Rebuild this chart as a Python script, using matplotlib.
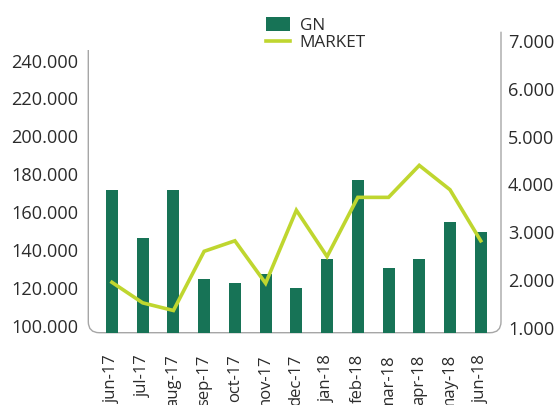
import matplotlib
matplotlib.use("Agg")
import matplotlib.pyplot as plt
from matplotlib.patches import Patch
from matplotlib.lines import Line2D
from matplotlib.path import Path
from matplotlib.patches import PathPatch

categories = ["jun-17", "jul-17", "aug-17", "sep-17", "oct-17", "nov-17", "dec-17",
              "jan-18", "feb-18", "mar-18", "apr-18", "may-18", "jun-18"]
gn_values = [171.4, 146.5, 171.4, 124.7, 122.4, 127.3, 119.7,
             135.1, 176.7, 130.6, 135.1, 154.7, 149.2]
market_values = [1.95, 1.52, 1.36, 2.60, 2.82, 1.93, 3.46,
                 2.49, 3.73, 3.73, 4.40, 3.89, 2.82]
left_ticks = [100, 120, 140, 160, 180, 200, 220, 240]
right_ticks = [1, 2, 3, 4, 5, 6, 7]

BAR = "#177356"
LINE = "#bfd62f"
SPINE = "#a6a6a6"
TXT = "#2b2b2b"

plt.rcParams['font.family'] = ['Open Sans', 'DejaVu Sans']

W, H = 555, 405
fig = plt.figure(figsize=(W / 100, H / 100), dpi=100)
L, R, B, T = 88.3, 501, 332.7, 31.7
ax = fig.add_axes([L / W, 1 - B / H, (R - L) / W, (B - T) / H])
ax2 = ax.twinx()

x = list(range(len(categories)))
ax.bar(x, gn_values, width=0.39, color=BAR, zorder=2)
ax2.plot(x, market_values, color=LINE, lw=2.6, solid_joinstyle='miter', zorder=3)

ax.set_xlim(-0.77, 12.66)
ax.set_ylim(96.2, 255.3)
ax2.set_ylim(0.895, 7.2)

ax.set_yticks(left_ticks)
ax.set_yticklabels([f"{v}.000" for v in left_ticks])
ax2.set_yticks(right_ticks)
ax2.set_yticklabels([f"{v}.000" for v in right_ticks])
ax.set_xticks(x)
ax.set_xticklabels(categories, rotation=90, va='top', ha='center')

fs = 13.1
ax.tick_params(axis='y', length=0, pad=7, labelsize=fs, labelcolor=TXT)
ax2.tick_params(axis='y', length=0, pad=5, labelsize=fs, labelcolor=TXT)
ax.tick_params(axis='x', length=0, pad=15.5, labelsize=12.0, labelcolor=TXT)

for a in (ax, ax2):
    for s in a.spines.values():
        s.set_visible(False)

# frame with rounded bottom corners
aw, ah = R - L, B - T
rx, ry = 11 / aw, 11 / ah
ltop = (B - 50) / ah
verts = [(0, ltop), (0, ry), (0, 0), (rx, 0), (1 - rx, 0), (1, 0), (1, ry), (1, 1)]
codes = [Path.MOVETO, Path.LINETO, Path.CURVE3, Path.CURVE3, Path.LINETO,
         Path.CURVE3, Path.CURVE3, Path.LINETO]
frame = PathPatch(Path(verts, codes), transform=ax.transAxes, fill=False,
                  edgecolor=SPINE, lw=1.0, clip_on=False, zorder=1)
ax.add_patch(frame)

handles = [Patch(facecolor=BAR, edgecolor='none', label="GN"),
           Line2D([0], [0], color=LINE, lw=2.6, label="MARKET")]
fig.legend(handles=handles, loc='upper left', bbox_to_anchor=(266 / W, 1 - 17 / H),
           frameon=False, fontsize=12.3, handlelength=1.42, handleheight=0.85,
           handletextpad=0.55, labelspacing=0.05, borderpad=0, borderaxespad=0,
           labelcolor=TXT)

fig.savefig("out.png", dpi=100)
